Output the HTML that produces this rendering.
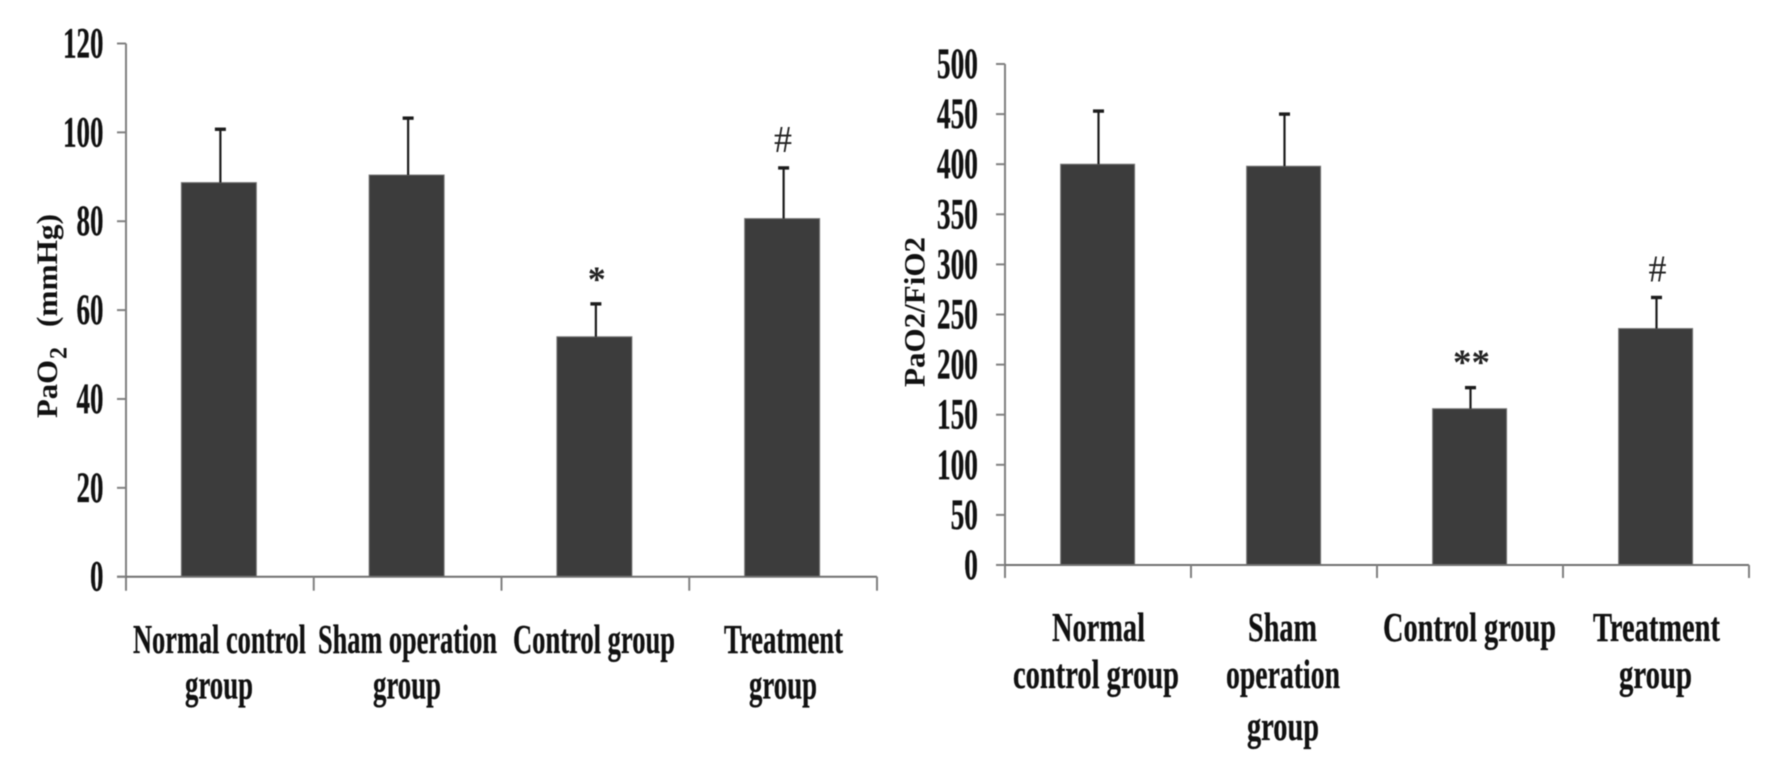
<!DOCTYPE html>
<html lang="en">
<head>
<meta charset="utf-8">
<title>PaO2 and PaO2/FiO2 by group</title>
<style>
  html, body { margin: 0; padding: 0; background: #fff; }
  body { width: 1772px; height: 771px; overflow: hidden; }
  svg { display: block; filter: blur(0.65px); }
  text { font-family: "Liberation Serif", serif; fill: #111; }
  .b { font-weight: bold; font-size: 41px; stroke: #111; stroke-width: 0.3px; }
  .t { font-weight: bold; font-size: 30px; }
  .m { font-size: 38px; fill: #222; }
  .a { font-size: 36px; font-weight: bold; fill: #222; }
</style>
</head>
<body>
<svg id="figure" width="1772" height="771" viewBox="0 0 1772 771" xmlns="http://www.w3.org/2000/svg">
  <rect width="1772" height="771" fill="#fff"/>

  <g id="left-chart">
    <g id="left-marks"></g>
    <text class="t" transform="translate(57,418) rotate(-90)" textLength="58" lengthAdjust="spacingAndGlyphs">PaO</text>
    <text font-size="25" font-weight="bold" transform="translate(66.5,359) rotate(-90)" textLength="12" lengthAdjust="spacingAndGlyphs">2</text>
    <text class="t" transform="translate(57,327) rotate(-90)" textLength="113" lengthAdjust="spacingAndGlyphs">(mmHg)</text>

    <text class="b" x="133" y="653" textLength="173" lengthAdjust="spacingAndGlyphs">Normal control</text>
    <text class="b" x="185" y="698.5" textLength="68" lengthAdjust="spacingAndGlyphs">group</text>
    <text class="b" x="318" y="653" textLength="179" lengthAdjust="spacingAndGlyphs">Sham operation</text>
    <text class="b" x="373" y="698.5" textLength="68" lengthAdjust="spacingAndGlyphs">group</text>
    <text class="b" x="513" y="653" textLength="162" lengthAdjust="spacingAndGlyphs">Control group</text>
    <text class="b" x="724" y="653" textLength="119" lengthAdjust="spacingAndGlyphs">Treatment</text>
    <text class="b" x="749" y="698.5" textLength="68" lengthAdjust="spacingAndGlyphs">group</text>

    <text class="a" x="587.7" y="291">*</text>
    <text class="m" x="774" y="152" textLength="18" lengthAdjust="spacingAndGlyphs">#</text>
  </g>

  <g id="right-chart">
    <g id="right-marks"></g>
    <text class="t" transform="translate(924.5,387) rotate(-90)" textLength="150" lengthAdjust="spacingAndGlyphs">PaO2/FiO2</text>

    <text class="b" x="1052" y="641" textLength="93" lengthAdjust="spacingAndGlyphs">Normal</text>
    <text class="b" x="1013" y="688" textLength="166" lengthAdjust="spacingAndGlyphs">control group</text>
    <text class="b" x="1248" y="641" textLength="69" lengthAdjust="spacingAndGlyphs">Sham</text>
    <text class="b" x="1226" y="688" textLength="114" lengthAdjust="spacingAndGlyphs">operation</text>
    <text class="b" x="1247" y="740" textLength="72" lengthAdjust="spacingAndGlyphs">group</text>
    <text class="b" x="1383" y="641" textLength="173" lengthAdjust="spacingAndGlyphs">Control group</text>
    <text class="b" x="1593" y="641" textLength="127" lengthAdjust="spacingAndGlyphs">Treatment</text>
    <text class="b" x="1619" y="688" textLength="73" lengthAdjust="spacingAndGlyphs">group</text>

    <text class="a" x="1453" y="374" textLength="37" lengthAdjust="spacingAndGlyphs">**</text>
    <text class="m" x="1648.5" y="281.5" textLength="18" lengthAdjust="spacingAndGlyphs">#</text>
  </g>
</svg>

<script>
// PaO2 chart data
const pao2Categories = ["Normal control group", "Sham operation group", "Control group", "Treatment group"];
const pao2Means = [88.7, 90.4, 54, 80.6];
const pao2Errors = [12, 12.8, 7.4, 11.4];
const pao2Ticks = [0, 20, 40, 60, 80, 100, 120];

// PaO2/FiO2 chart data
const ratioCategories = ["Normal control group", "Sham operation group", "Control group", "Treatment group"];
const ratioMeans = [400, 398, 156, 236];
const ratioErrors = [53, 52, 21, 31];
const ratioTicks = [0, 50, 100, 150, 200, 250, 300, 350, 400, 450, 500];

const SVG_NS = "http://www.w3.org/2000/svg";

function make(parent, tag, attrs) {
  const el = document.createElementNS(SVG_NS, tag);
  for (const k in attrs) el.setAttribute(k, attrs[k]);
  parent.appendChild(el);
  return el;
}

function drawChart(parent, cfg, categories, means, errors, ticks) {
  const yMax = ticks[ticks.length - 1];
  const y = v => cfg.baseY - (v / yMax) * (cfg.baseY - cfg.topY);
  const step = (cfg.rightX - cfg.axisX) / categories.length;
  const xEdge = i => cfg.axisX + i * step;
  const xMid = i => cfg.axisX + (i + 0.5) * step;

  categories.forEach((c, i) => {
    const bar = make(parent, "rect", {
      x: xMid(i) + cfg.barShift - cfg.barW / 2, y: y(means[i]),
      width: cfg.barW, height: y(0) - y(means[i]),
      fill: "#3c3c3c", stroke: "#777", "stroke-width": 1
    });
    
    

    const stem = make(parent, "line", {
      x1: xMid(i) + 0.5, x2: xMid(i) + 0.5,
      y1: y(means[i]), y2: y(means[i] + errors[i]),
      stroke: "#1c1c1c", "stroke-width": 2.2
    });
    
    

    const cap = make(parent, "line", {
      x1: xMid(i) - 5, x2: xMid(i) + 6,
      y1: y(means[i] + errors[i]), y2: y(means[i] + errors[i]),
      stroke: "#1c1c1c", "stroke-width": 3.4
    });
    
    
  });

  const yAxis = make(parent, "line", {
    x1: cfg.axisX, x2: cfg.axisX, y1: y(yMax), y2: y(0) + cfg.xTickLen,
    stroke: "#808080", "stroke-width": 2
  });
  
  

  const xAxis = make(parent, "line", {
    x1: cfg.axisX - cfg.yTickLen, x2: cfg.rightX, y1: y(0), y2: y(0),
    stroke: "#707070", "stroke-width": 2
  });
  
  

  for (let i = 1; i <= categories.length; i++) {
    const t = make(parent, "line", {
      x1: xEdge(i), x2: xEdge(i), y1: y(0), y2: y(0) + cfg.xTickLen,
      stroke: "#808080", "stroke-width": 2
    });
    
    
  }

  ticks.forEach(v => {
    const t = make(parent, "line", {
      x1: cfg.axisX - cfg.yTickLen, x2: cfg.axisX, y1: y(v), y2: y(v),
      stroke: "#808080", "stroke-width": 2
    });
    
    

    const s = String(v);
    const w = s.length * cfg.digitW;
    const label = make(parent, "text", {
      x: cfg.labelRight - w, y: y(v) + 14,
      textLength: w, lengthAdjust: "spacingAndGlyphs",
      style: "font-weight:bold;font-size:43px;stroke:#111;stroke-width:0.3px"
    });
    label.textContent = s;
    
    
  });
}

drawChart(document.getElementById("left-marks"),
  { axisX: 126, rightX: 877, topY: 43.5, baseY: 576.7, barW: 75, barShift: -1, xTickLen: 14, yTickLen: 9, digitW: 13.5, labelRight: 103.5 },
  pao2Categories, pao2Means, pao2Errors, pao2Ticks);

drawChart(document.getElementById("right-marks"),
  { axisX: 1005, rightX: 1749, topY: 64, baseY: 565, barW: 74, barShift: -0.4, xTickLen: 13, yTickLen: 9, digitW: 13.7, labelRight: 978 },
  ratioCategories, ratioMeans, ratioErrors, ratioTicks);
</script>
</body>
</html>
